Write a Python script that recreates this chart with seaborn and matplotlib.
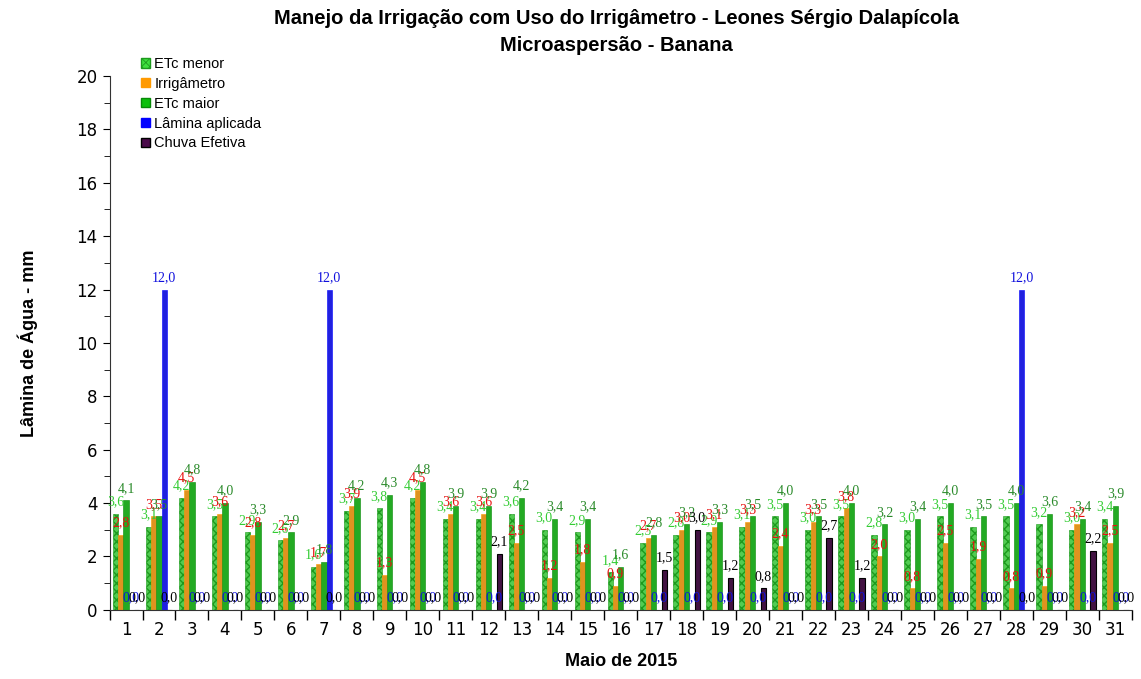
import numpy as np
import pandas as pd
import matplotlib
matplotlib.use('Agg')
import matplotlib.pyplot as plt
import matplotlib.patches as mpatches
import seaborn as sns

days = list(range(1, 32))
etc_menor = [3.6, 3.1, 4.2, 3.5, 2.9, 2.6, 1.6, 3.7, 3.8, 4.2, 3.4, 3.4, 3.6, 3.0, 2.9, 1.4,
             2.5, 2.8, 2.9, 3.1, 3.5, 3.0, 3.5, 2.8, 3.0, 3.5, 3.1, 3.5, 3.2, 3.0, 3.4]
irrigametro = [2.8, 3.5, 4.5, 3.6, 2.8, 2.7, 1.7, 3.9, 1.3, 4.5, 3.6, 3.6, 2.5, 1.2, 1.8, 0.9,
               2.7, 3.0, 3.1, 3.3, 2.4, 3.3, 3.8, 2.0, 0.8, 2.5, 1.9, 0.8, 0.9, 3.2, 2.5]
etc_maior = [4.1, 3.5, 4.8, 4.0, 3.3, 2.9, 1.8, 4.2, 4.3, 4.8, 3.9, 3.9, 4.2, 3.4, 3.4, 1.6,
             2.8, 3.2, 3.3, 3.5, 4.0, 3.5, 4.0, 3.2, 3.4, 4.0, 3.5, 4.0, 3.6, 3.4, 3.9]
lamina = [0, 12.0, 0, 0, 0, 0, 12.0, 0, 0, 0, 0, 0, 0, 0, 0, 0,
          0, 0, 0, 0, 0, 0, 0, 0, 0, 0, 0, 12.0, 0, 0, 0]
chuva = [0, 0, 0, 0, 0, 0, 0, 0, 0, 0, 0, 2.1, 0, 0, 0, 0,
         1.5, 3.0, 1.2, 0.8, 0, 2.7, 1.2, 0, 0, 0, 0, 0, 0, 2.2, 0]

series = ['ETc menor', 'Irrigâmetro', 'ETc maior', 'Lâmina aplicada', 'Chuva Efetiva']
bar_colors = ['#3ee03e', '#ff9a00', '#0cc00c', '#0000ff', '#4a0a4a']
edge_colors = ['#1d9a1d', '#ff9a00', '#078a07', '#0000ff', '#000000']
label_colors = ['#33cc33', '#e81010', '#2a8a2a', '#1010dd', '#000000']

df = pd.DataFrame({
    'dia': days * 5,
    'serie': sum([[s] * 31 for s in series], []),
    'valor': etc_menor + irrigametro + etc_maior + lamina + chuva,
})

fig, ax = plt.subplots(figsize=(11.41, 6.79), dpi=100)
fig.subplots_adjust(left=0.096, right=0.992, bottom=0.102, top=0.888)

sns.barplot(data=df, x='dia', y='valor', hue='serie', hue_order=series,
            palette=bar_colors, width=0.8, ax=ax, legend=False, errorbar=None)

plt.rcParams['hatch.linewidth'] = 0.6
for i, cont in enumerate(ax.containers):
    for bar in cont:
        bar.set_edgecolor(edge_colors[i])
        bar.set_linewidth(0.8 if i == 4 else 0.4)
        if i == 0:
            bar.set_hatch('xxxx')
    for bar, v in zip(cont, [etc_menor, irrigametro, etc_maior, lamina, chuva][i]):
        cx = bar.get_x() + bar.get_width() / 2
        txt = f'{v:.1f}'.replace('.', ',')
        ax.text(cx, v + 0.45, txt, ha='center', va='center', fontsize=10,
                family='Liberation Serif', color=label_colors[i])

ax.set_ylim(0, 20)
ax.set_xlim(-0.5, 30.5)
ax.set_yticks(np.arange(0, 21, 2))
ax.set_yticks(np.arange(1, 20, 2), minor=True)
ax.set_xticks(range(31))
ax.set_xticklabels([str(d) for d in days])
ax.set_xticks(np.arange(-0.5, 31, 1), minor=True)
ax.tick_params(axis='x', which='major', length=0, labelsize=12, pad=8)
ax.tick_params(axis='x', which='minor', length=7, width=1)
ax.tick_params(axis='y', which='major', length=5, labelsize=12)
ax.tick_params(axis='y', which='minor', length=4)
for s in ['top', 'right']:
    ax.spines[s].set_visible(False)
ax.spines['left'].set_color('#333333')
ax.spines['bottom'].set_color('#333333')

ax.set_xlabel('Maio de 2015', fontsize=13, fontweight='bold', family='Liberation Sans', labelpad=10)
ax.set_ylabel('Lâmina de Água - mm', fontsize=13, fontweight='bold', family='Liberation Sans', labelpad=28)
fig.text(0.54, 0.973, 'Manejo da Irrigação com Uso do Irrigâmetro - Leones Sérgio Dalapícola',
         ha='center', va='center', fontsize=14.5, fontweight='bold', family='Liberation Sans')
fig.text(0.54, 0.933, 'Microaspersão - Banana',
         ha='center', va='center', fontsize=14.5, fontweight='bold', family='Liberation Sans')

handles = []
for i, s in enumerate(series):
    h = mpatches.Patch(facecolor=bar_colors[i], edgecolor=edge_colors[i],
                       hatch='xxxx' if i == 0 else None, label=s)
    handles.append(h)
leg = ax.legend(handles=handles, loc='upper left', bbox_to_anchor=(0.018, 1.06),
                frameon=False, fontsize=10.5, handlelength=0.6, handleheight=0.6,
                handletextpad=0.3, labelspacing=0.4)
for t in leg.get_texts():
    t.set_family('Liberation Sans')

fig.savefig('out.png', dpi=100)
